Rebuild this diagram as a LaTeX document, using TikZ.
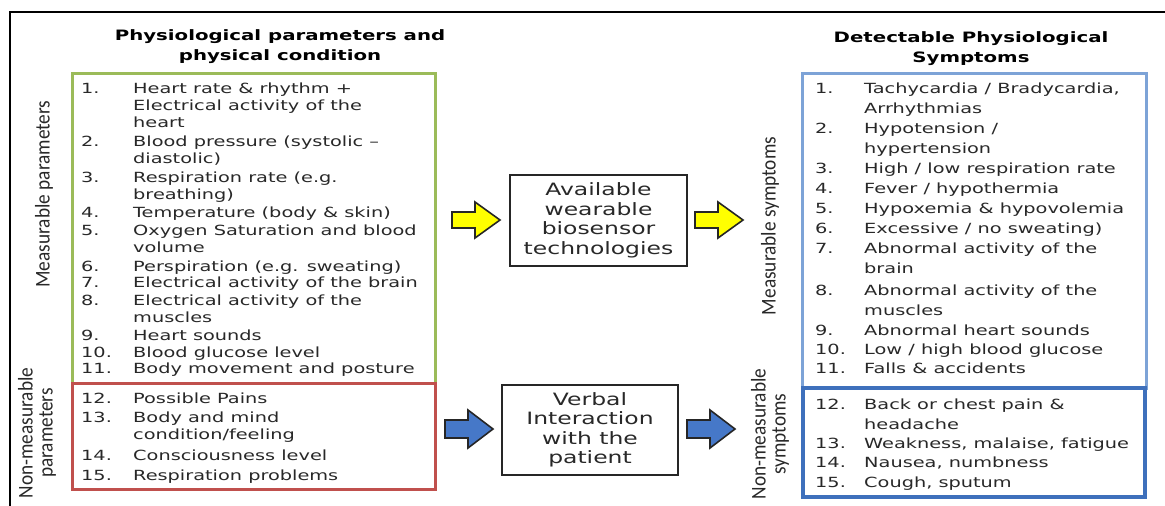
\documentclass[tikz,border=0pt]{standalone}
\usepackage{fontspec}
\setmainfont{DejaVu Sans}[FakeStretch=1.38]
\newfontfamily\lblfont{Carlito}[FakeStretch=0.92]
\definecolor{gbox}{RGB}{155,187,89}
\definecolor{rbox}{RGB}{192,80,77}
\definecolor{lbbox}{RGB}{125,163,215}
\definecolor{dbbox}{RGB}{62,112,188}
\definecolor{txt}{RGB}{40,40,40}
\definecolor{ayellow}{RGB}{255,255,0}
\definecolor{ablue}{RGB}{70,120,200}
\newcommand\ItemLines[1]{\begin{tabular}[t]{@{}l@{}}#1\end{tabular}}
\newcommand\LItem[4]{\node[numtxt] (#1n) at (81,#2) {#3};\node[itemtxt] (#1) at (133,#2) {\ItemLines{#4}};}
\newcommand\RItem[4]{\node[numtxt] (#1n) at (815,#2) {#3};\node[ritemtxt] (#1) at (864,#2) {\ItemLines{#4}};}
\newcommand\BlockArrow[5]{% x0, yc, shaft half, head half, style
  \draw[#5] ({#1},{#2-#3}) -- ({#1+23},{#2-#3}) -- ({#1+23},{#2-#4}) -- ({#1+48},{#2})
    -- ({#1+23},{#2+#4}) -- ({#1+23},{#2+#3}) -- ({#1},{#2+#3}) -- cycle;}
\tikzset{
  itemtxt/.style={inner sep=0, anchor=base west, text=txt, font=\fontsize{14}{17}\selectfont},
  ritemtxt/.style={itemtxt, font=\fontsize{14}{20}\selectfont},
  numtxt/.style={inner sep=0, anchor=base west, text=txt, font=\fontsize{14}{17}\selectfont},
  titletxt/.style={inner sep=0, align=center, text=black, font=\bfseries\fontsize{14.3}{20}\selectfont},
  midbox/.style={draw=black!85, line width=2, inner sep=0, align=center, text=txt, font=\fontsize{17}{19.5}\selectfont},
  sidelbl/.style={rotate=90, inner sep=0, align=center, text=txt, font=\lblfont\fontsize{21}{20}\selectfont},
  yarrow/.style={draw=black!85, line width=1.6, fill=ayellow, line join=miter},
  barrow/.style={draw=black!85, line width=1.6, fill=ablue, line join=miter},
}
\begin{document}
\begin{tikzpicture}[x=1pt,y=-1pt]
\useasboundingbox (0,0) rectangle (1165,506);
% outer frame (cropped)
\draw[line width=2.8, black] (10,506) -- (10,12) -- (1165,12);
% titles
\node[titletxt] (ltitle) at (280,47) {Physiological parameters and\\physical condition};
\node[titletxt] (rtitle) at (971,49) {Detectable Physiological\\Symptoms};
% boxes
\node[draw=gbox, line width=3, minimum width=363, minimum height=310, inner sep=0] (green) at (253.5,228) {};
\node[draw=rbox, line width=3, minimum width=363, minimum height=106, inner sep=0] (red) at (253.5,436) {};
\node[draw=lbbox, line width=3, minimum width=344, minimum height=315, inner sep=0] (lblue) at (974,230.5) {};
\node[draw=dbbox, line width=4, minimum width=342, minimum height=109, inner sep=0] (dblue) at (974,442.5) {};
% side labels
\node[sidelbl] (lmeas) at (44,194) {Measurable parameters};
\node[sidelbl] (lnon) at (37,433) {Non-measurable\\parameters};
\node[sidelbl] (rmeas) at (770,226) {Measurable symptoms};
\node[sidelbl] (rnon) at (770,434) {Non-measurable\\symptoms};
% left items
\LItem{l1}{93}{1.}{Heart rate \& rhythm +\\Electrical activity of the\\heart}
\LItem{l2}{146}{2.}{Blood pressure (systolic –\\diastolic)}
\LItem{l3}{182}{3.}{Respiration rate (e.g.\\breathing)}
\LItem{l4}{217}{4.}{Temperature (body \& skin)}
\LItem{l5}{235}{5.}{Oxygen Saturation and blood\\volume}
\LItem{l6}{271}{6.}{Perspiration (e.g. sweating)}
\LItem{l7}{287}{7.}{Electrical activity of the brain}
\LItem{l8}{305}{8.}{Electrical activity of the\\muscles}
\LItem{l9}{340}{9.}{Heart sounds}
\LItem{l10}{357}{10.}{Blood glucose level}
\LItem{l11}{373}{11.}{Body movement and posture}
\LItem{l12}{403}{12.}{Possible Pains}
\LItem{l13}{422}{13.}{Body and mind\\condition/feeling}
\LItem{l14}{460}{14.}{Consciousness level}
\LItem{l15}{480}{15.}{Respiration problems}
% right items
\RItem{r1}{93}{1.}{Tachycardia / Bradycardia,\\Arrhythmias}
\RItem{r2}{133}{2.}{Hypotension /\\hypertension}
\RItem{r3}{173}{3.}{High / low respiration rate}
\RItem{r4}{193}{4.}{Fever / hypothermia}
\RItem{r5}{213}{5.}{Hypoxemia \& hypovolemia}
\RItem{r6}{233}{6.}{Excessive / no sweating)}
\RItem{r7}{253}{7.}{Abnormal activity of the\\brain}
\RItem{r8}{295}{8.}{Abnormal activity of the\\muscles}
\RItem{r9}{335}{9.}{Abnormal heart sounds}
\RItem{r10}{354}{10.}{Low / high blood glucose}
\RItem{r11}{373}{11.}{Falls \& accidents}
\RItem{r12}{409}{12.}{Back or chest pain \&\\headache}
\RItem{r13}{448}{13.}{Weakness, malaise, fatigue}
\RItem{r14}{467}{14.}{Nausea, numbness}
\RItem{r15}{487}{15.}{Cough, sputum}
% middle boxes
\node[midbox, minimum width=177, minimum height=91] (tech) at (598.5,220.5) {Available\\wearable\\biosensor\\technologies};
\node[midbox, minimum width=176, minimum height=90] (verbal) at (590,430) {Verbal\\Interaction\\with the\\patient};
% block arrows
\BlockArrow{452}{220}{8}{18}{yarrow}
\BlockArrow{695}{220}{8}{18}{yarrow}
\BlockArrow{445}{429}{9}{19}{barrow}
\BlockArrow{687}{429}{9}{19}{barrow}
\end{tikzpicture}
\end{document}
